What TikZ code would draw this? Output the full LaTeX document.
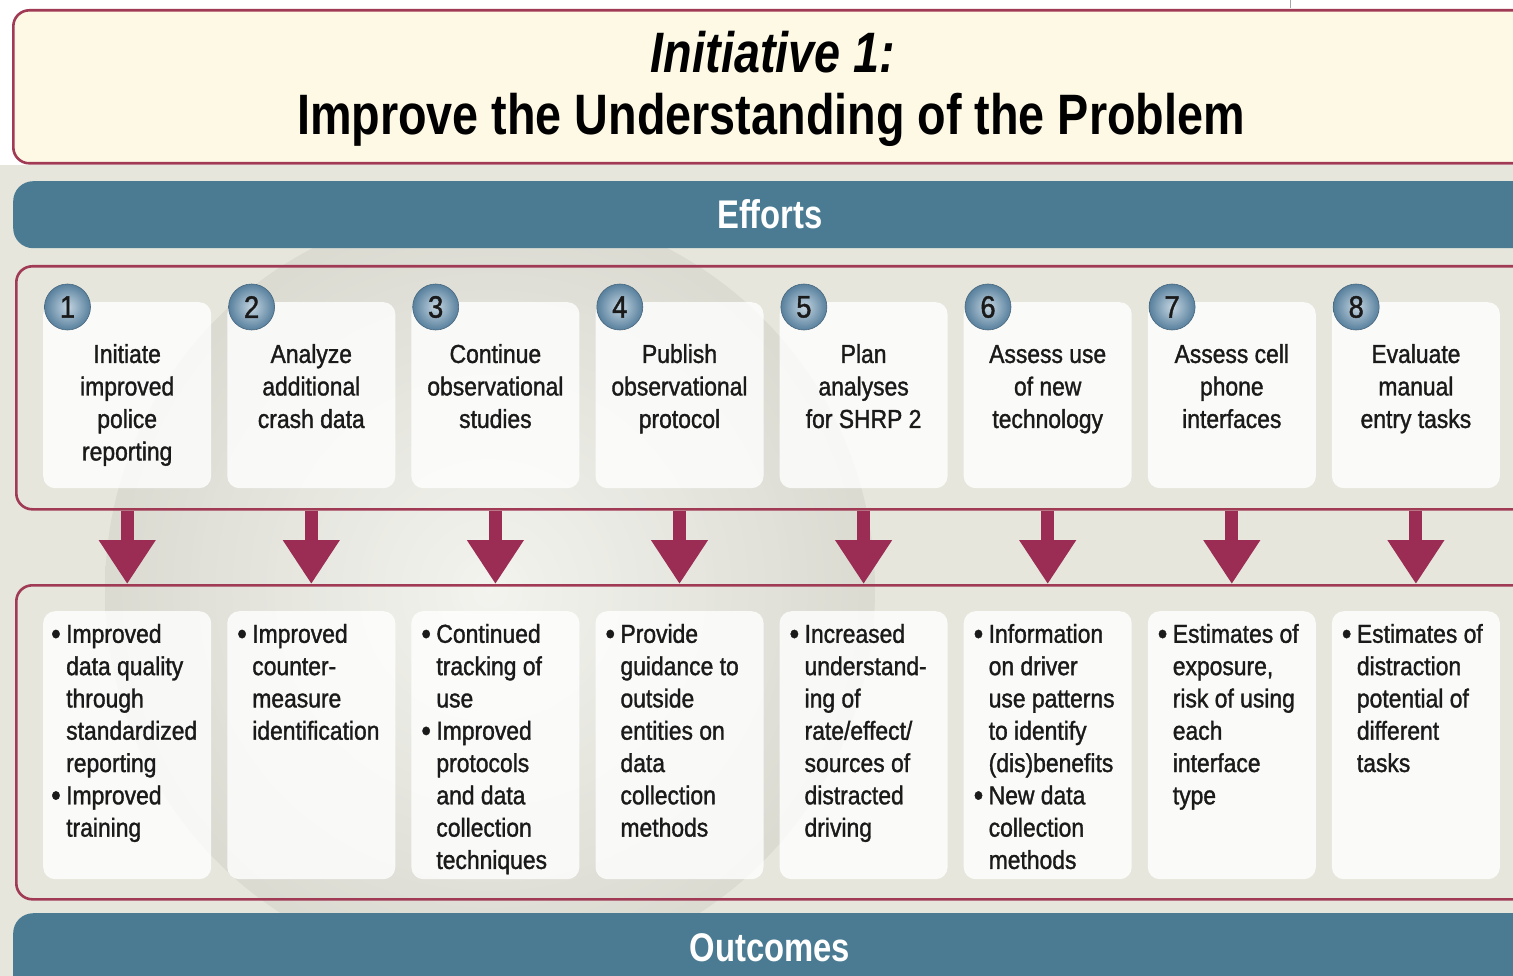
\documentclass[tikz,border=0pt]{standalone}
\usepackage{fontspec}
\setmainfont{Liberation Sans}
\newfontfamily\cond{Liberation Sans}[FakeStretch=0.88,FakeBold=1.3]
\newfontfamily\condt{Liberation Sans}[FakeStretch=0.82]
\usetikzlibrary{arrows.meta,calc}
\definecolor{bordred}{HTML}{A03A55}
\definecolor{arrred}{HTML}{9B2D55}
\definecolor{barblue}{HTML}{4A7B92}
\definecolor{titlefill}{HTML}{FDF9E4}
\definecolor{bgc}{HTML}{E6E6DC}
\definecolor{ballin}{HTML}{C4D5E1}
\definecolor{ballout}{HTML}{58809D}
\definecolor{txt}{HTML}{1A1A1A}
\newcommand{\bul}{\makebox[15pt][l]{\raisebox{-1.5pt}{\fontsize{31}{31}\selectfont\textbullet}}}
\newcommand{\ind}{\hspace*{15pt}}
\tikzset{
  frame/.style={draw=bordred, line width=2.6pt, rounded corners=16pt, inner sep=0pt, anchor=north west},
  bar/.style={fill=barblue, rounded corners=20pt, inner sep=0pt, anchor=north west},
  card/.style={fill=white, fill opacity=0.8, rounded corners=12pt, inner sep=0pt, anchor=north west, minimum width=168pt},
  num/.style={circle, shading=radial, inner color=ballin, outer color=ballout, draw=ballout!80!black, line width=0.6pt, minimum size=46pt, inner sep=0pt, text=txt, font=\cond\fontsize{31}{31}\selectfont},
  efftext/.style={anchor=north, align=center, inner sep=0pt, text=txt, font=\cond\fontsize{26}{32.5}\selectfont},
  outtext/.style={anchor=north west, align=left, inner sep=0pt, text=txt, font=\cond\fontsize{26}{32.3}\selectfont},
  bartext/.style={anchor=base, text=white, font=\condt\bfseries\fontsize{40}{40}\selectfont},
  arr/.style={draw=arrred, line width=13pt, -{Triangle[width=54pt,length=44pt]}, arrred}
}
\begin{document}
\begin{tikzpicture}[x=1pt,y=-1pt]
\useasboundingbox (0,0) rectangle (1513,976);
\clip (0,0) rectangle (1513,976);
% background
\fill[white] (0,0) rectangle (1513,976);
\fill[bgc] (0,165) rectangle (1513,976);
\shade[inner color=white, outer color=bgc!80!gray, opacity=0.55] (490,590) circle (385);
\draw[gray!70, line width=1pt] (1290,0) -- (1290,8);
% title
\node[frame, fill=titlefill, minimum width=1530pt, minimum height=153pt] (title) at (12,9) {};
\node[anchor=base, text=black, font=\condt\bfseries\itshape\fontsize{57}{57}\selectfont] (t1) at (773,73) {Initiative 1:};
\node[anchor=base, text=black, font=\condt\bfseries\fontsize{57}{57}\selectfont] (t2) at (771,135) {Improve the Understanding of the Problem};
% bars
\node[bar, minimum width=1540pt, minimum height=67pt] (effbar) at (13,181) {};
\node[bartext] (efftitle) at (770,229) {Efforts};
\node[bar, minimum width=1540pt, minimum height=100pt] (outbar) at (13,913) {};
\node[bartext] (outtitle) at (770,961) {Outcomes};
% frames
\node[frame, minimum width=1530pt, minimum height=243pt] (effframe) at (15,265) {};
\node[frame, minimum width=1530pt, minimum height=314pt] (outframe) at (15,584) {};
% cards, circles, arrows
\foreach \i in {1,...,8}{
  \pgfmathsetmacro{\L}{43+184.1*(\i-1)}
  \node[card, minimum height=186pt] (e\i) at (\L,302) {};
  \node[card, minimum height=268pt] (o\i) at (\L,611) {};
  \node[num] (n\i) at (\L+24.5,307) {\i};
  \draw[arr] (e\i.south |- effframe.south) -- (e\i.south |- outframe.north);
}
% effort texts
\node[efftext] at ($(e1.north)+(0,38)$) {\strut Initiate\\improved\\police\\reporting};
\node[efftext] at ($(e2.north)+(0,38)$) {\strut Analyze\\additional\\crash data};
\node[efftext] at ($(e3.north)+(0,38)$) {\strut Continue\\observational\\studies};
\node[efftext] at ($(e4.north)+(0,38)$) {\strut Publish\\observational\\protocol};
\node[efftext] at ($(e5.north)+(0,38)$) {\strut Plan\\analyses\\for SHRP 2};
\node[efftext] at ($(e6.north)+(0,38)$) {\strut Assess use\\of new\\technology};
\node[efftext] at ($(e7.north)+(0,38)$) {\strut Assess cell\\phone\\interfaces};
\node[efftext] at ($(e8.north)+(0,38)$) {\strut Evaluate\\manual\\entry tasks};
% outcome texts
\node[outtext] at ($(o1.north west)+(8,9)$) {\strut\bul Improved\\\ind data quality\\\ind through\\\ind standardized\\\ind reporting\\\bul Improved\\\ind training};
\node[outtext] at ($(o2.north west)+(10,9)$) {\strut\bul Improved\\\ind counter-\\\ind measure\\\ind identification};
\node[outtext] at ($(o3.north west)+(10,9)$) {\strut\bul Continued\\\ind tracking of\\\ind use\\\bul Improved\\\ind protocols\\\ind and data\\\ind collection\\\ind techniques};
\node[outtext] at ($(o4.north west)+(10,9)$) {\strut\bul Provide\\\ind guidance to\\\ind outside\\\ind entities on\\\ind data\\\ind collection\\\ind methods};
\node[outtext] at ($(o5.north west)+(10,9)$) {\strut\bul Increased\\\ind understand-\\\ind ing of\\\ind rate/effect/\\\ind sources of\\\ind distracted\\\ind driving};
\node[outtext] at ($(o6.north west)+(10,9)$) {\strut\bul Information\\\ind on driver\\\ind use patterns\\\ind to identify\\\ind (dis)benefits\\\bul New data\\\ind collection\\\ind methods};
\node[outtext] at ($(o7.north west)+(10,9)$) {\strut\bul Estimates of\\\ind exposure,\\\ind risk of using\\\ind each\\\ind interface\\\ind type};
\node[outtext] at ($(o8.north west)+(10,9)$) {\strut\bul Estimates of\\\ind distraction\\\ind potential of\\\ind different\\\ind tasks};
\end{tikzpicture}
\end{document}
